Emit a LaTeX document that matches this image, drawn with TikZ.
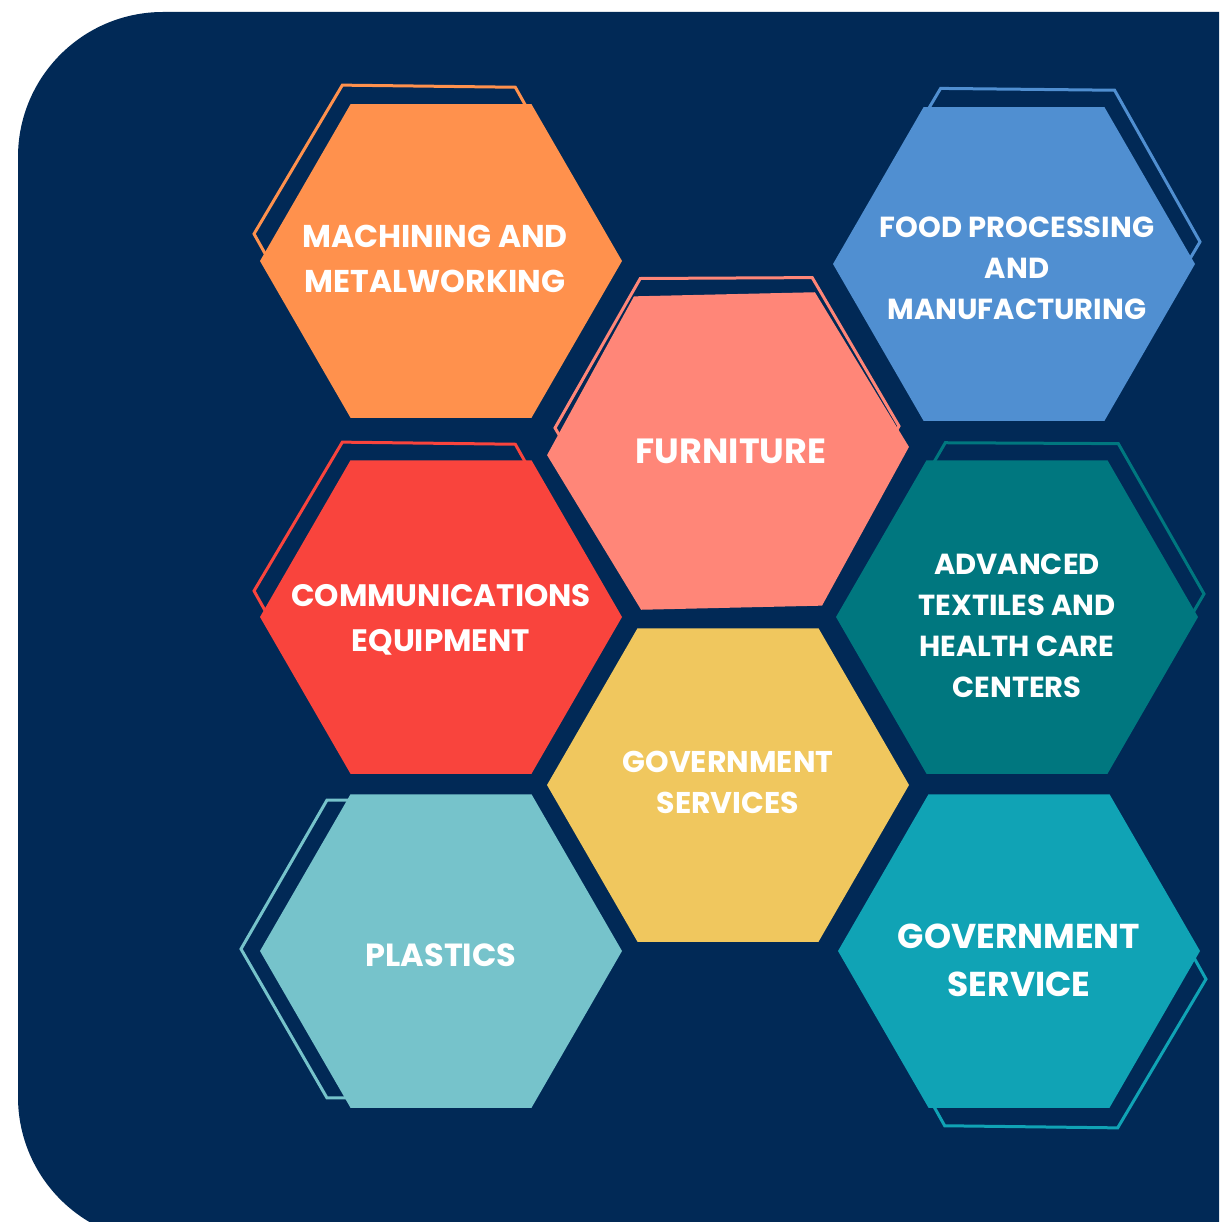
\documentclass[tikz,border=0pt]{standalone}
\usepackage{fontspec}
\setmainfont{Poppins}
\definecolor{navy}{HTML}{012956}
\definecolor{corange}{HTML}{FF914D}
\definecolor{cblue}{HTML}{508FD1}
\definecolor{csalmon}{HTML}{FF8678}
\definecolor{cred}{HTML}{F9443D}
\definecolor{cteal}{HTML}{00777F}
\definecolor{cyellow}{HTML}{F0C75E}
\definecolor{cltteal}{HTML}{76C3CB}
\definecolor{cturq}{HTML}{10A3B5}
\newcommand\hexshape[5]{\path[#1, shift={(#2,#3)}, rotate=#5] (0:#4) -- (60:#4) -- (120:#4) -- (180:#4) -- (240:#4) -- (300:#4) -- cycle;}
\tikzset{
  hexfill/.style={fill=#1},
  hexline/.style={draw=#1, line width=3pt, line join=miter},
  txt/.style={text=white, align=center, inner sep=0pt, font=\bfseries},
}
\begin{document}
\begin{tikzpicture}[x=1pt,y=-1pt]
\useasboundingbox (0,0) rectangle (1219,1222);
\clip (0,0) rectangle (1219,1222);
\fill[white] (0,0) rectangle (1219,1222);
\fill[navy, rounded corners=145pt] (18,12) rectangle (1420,1242);
% outlines
\hexshape{hexline=corange}{427}{236}{173}{-0.7}
\hexshape{hexline=cblue}{1026}{240}{174}{-0.6}
\hexshape{hexline=csalmon}{727}{427}{172}{0.3}
\hexshape{hexline=cred}{427}{593}{173}{-0.7}
\hexshape{hexline=cteal}{1031}{593}{173}{-0.3}
\hexshape{hexline=cltteal}{413}{949}{172}{0}
\hexshape{hexline=cturq}{1033}{977}{173}{-0.7}
% fills
\hexshape{hexfill=corange}{441}{261}{181}{0}
\hexshape{hexfill=cblue}{1014}{264}{181}{0}
\hexshape{hexfill=csalmon}{728}{451}{181}{1.3}
\hexshape{hexfill=cred}{441}{617}{181}{0}
\hexshape{hexfill=cteal}{1017}{617}{181}{0}
\hexshape{hexfill=cyellow}{728}{785}{181}{0}
\hexshape{hexfill=cltteal}{441}{951}{181}{0}
\hexshape{hexfill=cturq}{1019}{951}{181}{0}
% labels
\node[txt, font=\bfseries\fontsize{31.5}{45}\selectfont] (machining) at (435,259) {MACHINING AND\\METALWORKING};
\node[txt, font=\bfseries\fontsize{29}{41}\selectfont] (food) at (1017,268) {FOOD PROCESSING\\AND\\MANUFACTURING};
\node[txt, font=\bfseries\fontsize{35}{45}\selectfont] (furniture) at (731,451) {FURNITURE};
\node[txt, font=\bfseries\fontsize{31}{45}\selectfont] (comm) at (441,620) {COMMUNICATIONS\\EQUIPMENT};
\node[txt, font=\bfseries\fontsize{29}{41}\selectfont] (textiles) at (1017,626) {ADVANCED\\TEXTILES AND\\HEALTH CARE\\CENTERS};
\node[txt, font=\bfseries\fontsize{30}{41}\selectfont] (govs) at (728,782) {GOVERNMENT\\SERVICES};
\node[txt, font=\bfseries\fontsize{32}{45}\selectfont] (plastics) at (441,955) {PLASTICS};
\node[txt, font=\bfseries\fontsize{34.5}{48}\selectfont] (gov) at (1019,960) {GOVERNMENT\\SERVICE};
\end{tikzpicture}
\end{document}
